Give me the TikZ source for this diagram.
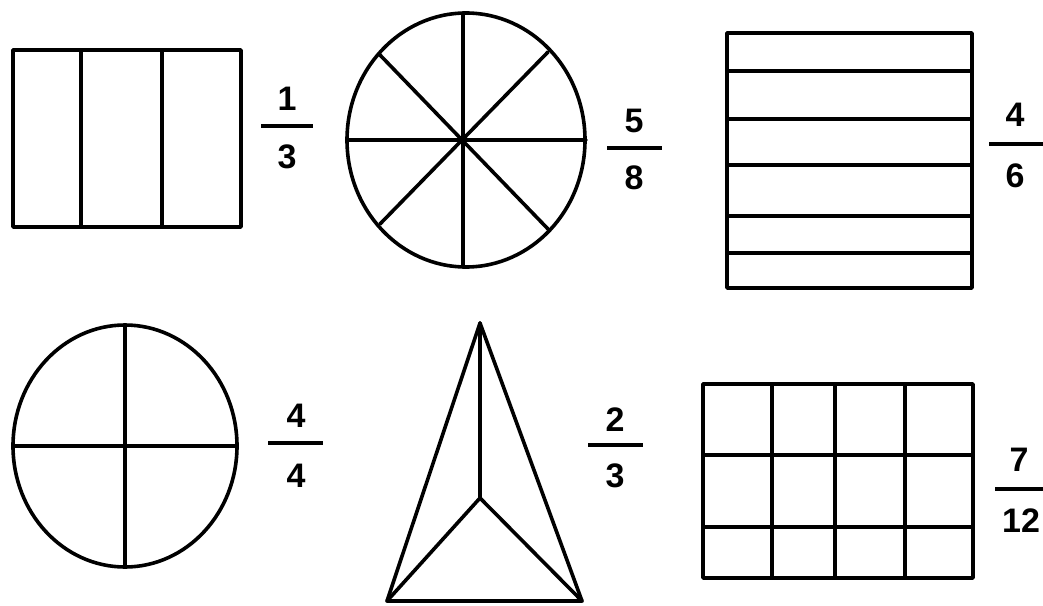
\documentclass[tikz,border=0pt]{standalone}
\usepackage{fontspec}
\setmainfont{Liberation Sans}
\tikzset{
  shp/.style={line width=3.6pt, line join=round, line cap=round},
  bar/.style={line width=3.6pt},
  dig/.style={font=\bfseries\fontsize{34}{34}\selectfont, inner sep=0pt}
}
\begin{document}
\begin{tikzpicture}[x=1pt,y=-1pt]
\useasboundingbox[fill=white] (0,0) rectangle (1043,605);
% 1/3 rectangle
\draw[shp] (13,50) rectangle (241,227);
\draw[shp] (81,50) -- (81,227) (162,50) -- (162,227);
\coordinate (b1l) at (261,126); \coordinate (b1r) at (313,126);
\draw[bar] (b1l) -- (b1r);
\node[dig] (n1) at (287,99) {1};
\node[dig] (d1) at (287,157) {3};
% 5/8 circle
\draw[shp] (466,140) ellipse [x radius=119, y radius=127];
\draw[shp] (463,13) -- (463,267) (347,140) -- (586,140)
  (380,55) -- (548,229) (548,52) -- (380,224);
\coordinate (b2l) at (607,148); \coordinate (b2r) at (662,148);
\draw[bar] (b2l) -- (b2r);
\node[dig] (n2) at (634,121) {5};
\node[dig] (d2) at (634,178) {8};
% 4/6 rectangle
\draw[shp] (727,33) rectangle (972,288);
\foreach \yy in {71,119,165,216,253} \draw[shp] (727,\yy) -- (972,\yy);
\coordinate (b3l) at (989,144); \coordinate (b3r) at (1043,144);
\draw[bar] (b3l) -- (b3r);
\node[dig] (n3) at (1015,115) {4};
\node[dig] (d3) at (1015,176) {6};
% 4/4 circle
\draw[shp] (125,446) ellipse [x radius=112, y radius=121];
\draw[shp] (125,325) -- (125,567) (13,446) -- (237,446);
\coordinate (b4l) at (268,443); \coordinate (b4r) at (323,443);
\draw[bar] (b4l) -- (b4r);
\node[dig] (n4) at (296,416) {4};
\node[dig] (d4) at (296,476) {4};
% 2/3 triangle
\coordinate (ta) at (480,323); \coordinate (tl) at (387,601);
\coordinate (tr) at (582,601); \coordinate (tc) at (480,498);
\draw[shp] (ta) -- (tl) -- (tr) -- cycle;
\draw[shp] (ta) -- (tc) (tl) -- (tc) -- (tr);
\coordinate (b5l) at (588,445); \coordinate (b5r) at (643,445);
\draw[bar] (b5l) -- (b5r);
\node[dig] (n5) at (615,420) {2};
\node[dig] (d5) at (615,476) {3};
% 7/12 grid
\draw[shp] (703,384) rectangle (973,578);
\foreach \xx in {772,835,905} \draw[shp] (\xx,384) -- (\xx,578);
\foreach \yy in {455,527} \draw[shp] (703,\yy) -- (973,\yy);
\coordinate (b6l) at (995,489); \coordinate (b6r) at (1043,489);
\draw[bar] (b6l) -- (b6r);
\node[dig] (n6) at (1019,460) {7};
\node[dig] (d6) at (1021,521) {12};
\end{tikzpicture}
\end{document}
